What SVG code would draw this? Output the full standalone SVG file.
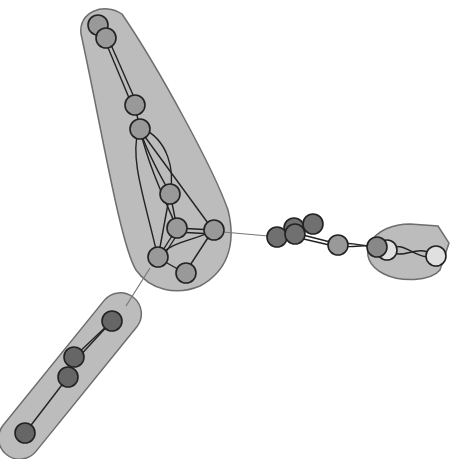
<svg xmlns="http://www.w3.org/2000/svg" width="454" height="459" viewBox="0 0 454 459">
<style>
.hull{fill:#bcbcbc;stroke:#6e6e6e;stroke-width:1.5}
.e{fill:none;stroke:#222;stroke-width:1.4}
.g{fill:none;stroke:#777;stroke-width:1.2}
.n{stroke:#222;stroke-width:1.6}
.m{fill:#999}
.d{fill:#707070}
.k{fill:#666}
.l{fill:#e0e0e0}
</style>
<rect width="454" height="459" fill="#fff"/>
<g id="hulls">
<path class="hull" d="M81,34 C78,12 104,2 122,14 C160,70 214,170 228,210 C237,246 226,272 200,286 C176,296 150,290 136,270 C120,244 100,120 81,34 Z"/>
<rect class="hull" x="-31" y="355" width="202" height="42" rx="21" transform="rotate(-51 70 376)"/>
<path class="hull" d="M370,244 C376,230 394,224 410,224 L438,226 L449,243 L440,270 C430,282 400,282 384,274 C368,266 365,254 370,244 Z"/>
</g>
<g id="connectors">
<line class="g" x1="150" y1="268" x2="126" y2="306"/>
<line class="g" x1="223" y1="232" x2="268" y2="236"/>
<line class="e" x1="98" y1="25" x2="106" y2="38"/>
<line class="e" x1="104" y1="38" x2="132" y2="105"/>
<line class="e" x1="108" y1="38" x2="137" y2="104"/>
<line class="e" x1="135" y1="105" x2="140" y2="130"/>
<path class="e" d="M140,130 C148,155 160,175 170,193"/>
<path class="e" d="M142,128 C168,140 175,170 170,193"/>
<path class="e" d="M138,132 C130,160 145,200 158,258"/>
<path class="e" d="M140,130 C150,170 165,200 177,228"/>
<line class="e" x1="140" y1="130" x2="213" y2="230"/>
<line class="e" x1="170" y1="193" x2="177" y2="228"/>
<line class="e" x1="170" y1="193" x2="158" y2="258"/>
<line class="e" x1="177" y1="228" x2="213" y2="230"/>
<line class="e" x1="177" y1="232" x2="213" y2="234"/>
<line class="e" x1="177" y1="228" x2="158" y2="258"/>
<line class="e" x1="180" y1="230" x2="161" y2="260"/>
<path class="e" d="M158,258 C170,240 200,240 213,230"/>
<line class="e" x1="158" y1="258" x2="185" y2="273"/>
<line class="e" x1="185" y1="273" x2="213" y2="230"/>
<line class="e" x1="277" y1="237" x2="295" y2="233"/>
<line class="e" x1="295" y1="233" x2="313" y2="224"/>
<line class="e" x1="295" y1="233" x2="338" y2="244"/>
<line class="e" x1="295" y1="237" x2="338" y2="247"/>
<path class="e" d="M338,245 C350,240 365,248 377,246" stroke-width="2.2"/>
<path class="e" d="M338,245 C350,250 365,242 377,248" stroke-width="2.2"/>
<path class="e" d="M387,250 C405,238 415,262 436,256"/>
<path class="e" d="M387,250 C405,262 415,242 436,256"/>
<line class="e" x1="112" y1="321" x2="74" y2="357"/>
<line class="e" x1="112" y1="321" x2="76" y2="360"/>
<line class="e" x1="74" y1="357" x2="68" y2="377"/>
<line class="e" x1="68" y1="377" x2="25" y2="433"/>
</g>
<g id="n1"><circle class="n m" cx="98" cy="25" r="10"/></g>
<g id="n2"><circle class="n m" cx="106" cy="38" r="10"/></g>
<g id="n3"><circle class="n m" cx="135" cy="105" r="10"/></g>
<g id="n4"><circle class="n m" cx="140" cy="129" r="10"/></g>
<g id="n5"><circle class="n m" cx="170" cy="194" r="10"/></g>
<g id="n6"><circle class="n m" cx="177" cy="228" r="10"/></g>
<g id="n7"><circle class="n m" cx="214" cy="230" r="10"/></g>
<g id="n8"><circle class="n m" cx="158" cy="257" r="10"/></g>
<g id="n9"><circle class="n m" cx="186" cy="273" r="10"/></g>
<g id="n10"><circle class="n d" cx="294" cy="228" r="10"/></g>
<g id="n11"><circle class="n d" cx="277" cy="237" r="10"/></g>
<g id="n12"><circle class="n d" cx="313" cy="224" r="10"/></g>
<g id="n13"><circle class="n d" cx="295" cy="234" r="10"/></g>
<g id="n14"><circle class="n m" cx="338" cy="245" r="10"/></g>
<g id="n15"><circle class="n l" cx="387" cy="250" r="10"/></g>
<g id="n16"><circle class="n" fill="#888" cx="377" cy="247" r="10"/></g>
<g id="n17"><circle class="n l" cx="436" cy="256" r="10"/></g>
<g id="n18"><circle class="n k" cx="112" cy="321" r="10"/></g>
<g id="n19"><circle class="n k" cx="74" cy="357" r="10"/></g>
<g id="n20"><circle class="n k" cx="68" cy="377" r="10"/></g>
<g id="n21"><circle class="n k" cx="25" cy="433" r="10"/></g>
</svg>
